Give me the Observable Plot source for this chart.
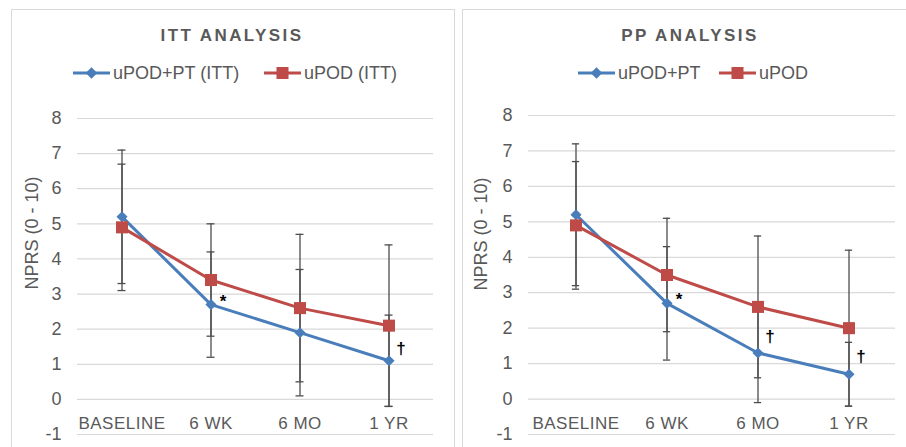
<!DOCTYPE html>
<html>
<head>
<meta charset="utf-8">
<script src="https://cdn.jsdelivr.net/npm/d3@7"></script>
<script src="https://cdn.jsdelivr.net/npm/@observablehq/plot@0.6"></script>
<style>
  html, body { margin: 0; padding: 0; background: #fff; }
  #page { position: relative; width: 906px; height: 447px; overflow: hidden; font-family: "Liberation Sans", Arial, sans-serif; }
  .box { position: absolute; border: 1px solid #d9d9d9; box-sizing: border-box; }
  .layer { position: absolute; top: 0; }
  g[aria-label="x-axis tick label"] text { letter-spacing: 0.5px; }
</style>
</head>
<body>
<div id="page"></div>
<script>
// ---------- data ----------
const categories = ["BASELINE", "6 WK", "6 MO", "1 YR"];
const yTicks = [-1, 0, 1, 2, 3, 4, 5, 6, 7, 8];
const yTitle = "NPRS (0 - 10)";

// ITT analysis
const ittTitle = "ITT ANALYSIS";
const ittNames = ["uPOD+PT (ITT)", "uPOD (ITT)"];
const ittComboMean = [5.2, 2.7, 1.9, 1.1];
const ittComboSD   = [1.9, 1.5, 1.8, 1.3];
const ittPodMean   = [4.9, 3.4, 2.6, 2.1];
const ittPodSD     = [1.8, 1.6, 2.1, 2.3];
const ittNoteCats   = ["6 WK", "1 YR"];
const ittNoteY      = [2.8, 1.45];
const ittNoteLabels = ["*", "†"];

// PP analysis
const ppTitle = "PP ANALYSIS";
const ppNames = ["uPOD+PT", "uPOD"];
const ppComboMean = [5.2, 2.7, 1.3, 0.7];
const ppComboSD   = [2.0, 1.6, 1.4, 0.9];
const ppPodMean   = [4.9, 3.5, 2.6, 2.0];
const ppPodSD     = [1.8, 1.6, 2.0, 2.2];
const ppNoteCats   = ["6 WK", "6 MO", "1 YR"];
const ppNoteY      = [2.8, 1.75, 1.2];
const ppNoteLabels = ["*", "†", "†"];

// ---------- styles ----------
const BLUE = "#4a7ebb";
const RED = "#be4b48";
const ERR = "#4d4d4d";
const GRID = "#d9d9d9";
const TEXT = "#595959";
const FONT = "'Liberation Sans', Arial, sans-serif";

const page = document.getElementById("page");

function panel(cfg) {
  const rows = categories.map((c, i) => ({
    cat: c,
    combo: cfg.comboMean[i], comboLo: cfg.comboMean[i] - cfg.comboSD[i], comboHi: cfg.comboMean[i] + cfg.comboSD[i],
    pod: cfg.podMean[i], podLo: cfg.podMean[i] - cfg.podSD[i], podHi: cfg.podMean[i] + cfg.podSD[i]
  }));
  const notes = cfg.noteCats.map((c, i) => ({cat: c, y: cfg.noteY[i], label: cfg.noteLabels[i]}));
  const bw = (cfg.width - cfg.marginLeft - cfg.marginRight) / categories.length;
  const inset = (bw - 8) / 2;

  const box = document.createElement("div");
  box.className = "box";
  Object.assign(box.style, {left: cfg.boxLeft + "px", top: "9px", width: cfg.boxWidth + "px", height: "460px"});
  page.appendChild(box);

  const chart = Plot.plot({
    width: cfg.width,
    height: 447,
    marginTop: cfg.marginTop,
    marginLeft: cfg.marginLeft,
    marginRight: cfg.marginRight,
    marginBottom: 13,
    style: {background: "transparent", fontFamily: FONT, overflow: "visible"},
    x: {type: "band", domain: categories, padding: 0},
    y: {domain: [-1, 8]},
    marks: [
      Plot.ruleY(yTicks, {stroke: GRID, strokeWidth: 1.2}),
      Plot.axisY({ticks: yTicks, tickFormat: (d) => `${d}`, tickSize: 0, tickPadding: 16, line: true, stroke: GRID, fill: TEXT, fontSize: 18, label: null}),
      Plot.axisX({tickSize: 0, tickPadding: -18, fill: TEXT, fontSize: 17, label: null}),
      Plot.ruleX(rows, {x: "cat", y1: "comboLo", y2: "comboHi", stroke: ERR, strokeWidth: 1.3}),
      Plot.tickY(rows, {x: "cat", y: "comboLo", insetLeft: inset, insetRight: inset, stroke: ERR, strokeWidth: 1.3}),
      Plot.tickY(rows, {x: "cat", y: "comboHi", insetLeft: inset, insetRight: inset, stroke: ERR, strokeWidth: 1.3}),
      Plot.ruleX(rows, {x: "cat", y1: "podLo", y2: "podHi", stroke: ERR, strokeWidth: 1.3}),
      Plot.tickY(rows, {x: "cat", y: "podLo", insetLeft: inset, insetRight: inset, stroke: ERR, strokeWidth: 1.3}),
      Plot.tickY(rows, {x: "cat", y: "podHi", insetLeft: inset, insetRight: inset, stroke: ERR, strokeWidth: 1.3}),
      Plot.line(rows, {x: "cat", y: "combo", stroke: BLUE, strokeWidth: 3}),
      Plot.dot(rows, {x: "cat", y: "combo", symbol: "diamond2", r: 5, fill: BLUE, stroke: null}),
      Plot.line(rows, {x: "cat", y: "pod", stroke: RED, strokeWidth: 3}),
      Plot.dot(rows, {x: "cat", y: "pod", symbol: "square", r: 6.8, fill: RED, stroke: null}),
      Plot.text(notes, {x: "cat", y: "y", text: "label", dx: 12, fontSize: 17, fontWeight: "bold", fill: "#000"})
    ]
  });
  chart.classList.add("layer");
  chart.style.left = cfg.left + "px";
  page.appendChild(chart);

  // title, legend and y title overlay
  const svg = d3.select(page).append("svg")
    .attr("class", "layer")
    .style("left", cfg.left + "px")
    .attr("width", cfg.width).attr("height", 447)
    .style("font-family", FONT)
    .style("pointer-events", "none");

  svg.append("text")
    .attr("x", cfg.titleX).attr("y", 40.5)
    .attr("text-anchor", "middle")
    .attr("font-size", 17).attr("font-weight", "bold")
    .attr("letter-spacing", "2.4px")
    .attr("fill", TEXT)
    .text(cfg.title);

  const colors = [BLUE, RED];
  cfg.legendX.forEach((lx, i) => {
    const g = svg.append("g").attr("transform", `translate(${lx},73)`);
    g.append("line").attr("x1", 0).attr("x2", 37).attr("stroke", colors[i]).attr("stroke-width", 3);
    if (i === 0) {
      g.append("path").attr("d", "M18.5,-5.8L24.3,0L18.5,5.8L12.7,0Z").attr("fill", colors[i]);
    } else {
      g.append("rect").attr("x", 12.5).attr("y", -6).attr("width", 12).attr("height", 12).attr("fill", colors[i]);
    }
    g.append("text").attr("x", 40).attr("y", 0).attr("dy", "0.35em")
      .attr("font-size", 18).attr("fill", TEXT).text(cfg.names[i]);
  });

  svg.append("text")
    .attr("transform", `translate(${cfg.yTitleX},${cfg.yTitleY}) rotate(-90)`)
    .attr("text-anchor", "middle")
    .attr("font-size", 18).attr("fill", TEXT)
    .text(yTitle);
}

panel({
  left: 0, width: 460, marginTop: 118, marginLeft: 77, marginRight: 27,
  boxLeft: 11, boxWidth: 444,
  title: ittTitle, titleX: 232, names: ittNames,
  comboMean: ittComboMean, comboSD: ittComboSD, podMean: ittPodMean, podSD: ittPodSD,
  noteCats: ittNoteCats, noteY: ittNoteY, noteLabels: ittNoteLabels,
  legendX: [73, 264], yTitleX: 37.7, yTitleY: 233
});

panel({
  left: 455, width: 451, marginTop: 115, marginLeft: 73, marginRight: 11,
  boxLeft: 462, boxWidth: 460,
  title: ppTitle, titleX: 690 - 455, names: ppNames,
  comboMean: ppComboMean, comboSD: ppComboSD, podMean: ppPodMean, podSD: ppPodSD,
  noteCats: ppNoteCats, noteY: ppNoteY, noteLabels: ppNoteLabels,
  legendX: [578 - 455, 719 - 455], yTitleX: 486.7 - 455, yTitleY: 234
});
</script>
</body>
</html>
